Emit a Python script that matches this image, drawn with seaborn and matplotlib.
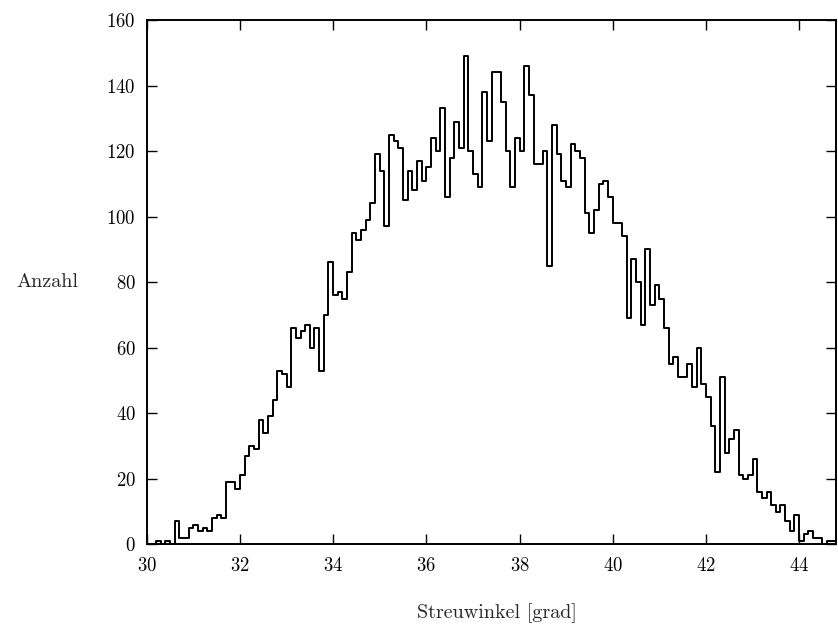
import numpy as np
import pandas as pd
import matplotlib
matplotlib.use('Agg')
import matplotlib.pyplot as plt
import seaborn as sns

# Histogramm: Streuwinkel in 0.1-grad-Klassen ab 30 grad
bin_start = 30.0
bin_width = 0.1
counts = [
    0, 0, 1, 0, 1, 0, 7, 2, 2, 5,
    6, 4, 5, 4, 8, 9, 8, 19, 19, 17,
    21, 27, 30, 29, 38, 34, 39, 44, 53, 52,
    48, 66, 63, 65, 67, 60, 66, 53, 70, 86,
    76, 77, 75, 83, 95, 93, 96, 99, 104, 119,
    114, 97, 125, 123, 121, 105, 114, 108, 117, 111,
    115, 124, 120, 133, 106, 118, 129, 121, 149, 120,
    113, 109, 138, 123, 144, 144, 135, 120, 109, 124,
    120, 146, 137, 116, 116, 120, 85, 128, 119, 111,
    109, 122, 120, 118, 101, 95, 102, 110, 111, 106,
    98, 98, 94, 69, 87, 80, 67, 90, 73, 79,
    75, 66, 55, 57, 51, 51, 55, 48, 60, 49,
    45, 36, 22, 51, 28, 32, 35, 21, 20, 21,
    26, 16, 14, 16, 12, 10, 12, 7, 4, 9,
    1, 3, 4, 2, 2, 0, 1, 1,
]
x_ticks = [30, 32, 34, 36, 38, 40, 42, 44]
y_ticks = [0, 20, 40, 60, 80, 100, 120, 140, 160]

n_bins = len(counts)
bin_end = bin_start + bin_width * n_bins
df = pd.DataFrame({
    'winkel': bin_start + bin_width * (np.arange(n_bins) + 0.5),
    'anzahl': counts,
})

sns.set_style('ticks')
plt.rcParams['font.family'] = ['cmr10', 'DejaVu Serif']
plt.rcParams['axes.formatter.use_mathtext'] = True

fig = plt.figure(figsize=(8.38, 6.28), dpi=100)
ax = fig.add_axes([0.1751, 0.1333, 0.8230, 0.8349])

sns.histplot(data=df, x='winkel', weights='anzahl', bins=n_bins,
             binrange=(bin_start, bin_end), element='step',
             fill=False, color='black', linewidth=1.4, ax=ax)

ax.set_xlim(bin_start, bin_end)
ax.set_ylim(0, 160)
ax.set_xticks(x_ticks)
ax.set_yticks(y_ticks)
ax.tick_params(direction='in', length=7.5, width=1.0, top=True, right=True,
               labelsize=13.5, colors='black')
ax.tick_params(axis='x', pad=9)
ax.tick_params(axis='y', pad=8)
for s in ax.spines.values():
    s.set_visible(True)
    s.set_linewidth(1.4)
    s.set_color('black')

ax.set_xlabel('Streuwinkel [grad]', fontsize=14.5)
ax.xaxis.set_label_coords(0.508, -0.112)
ax.set_ylabel('Anzahl', rotation=0, ha='center', va='center', fontsize=14.5)
ax.yaxis.set_label_coords(-0.144, 0.5)

fig.savefig('out.png', dpi=100)
